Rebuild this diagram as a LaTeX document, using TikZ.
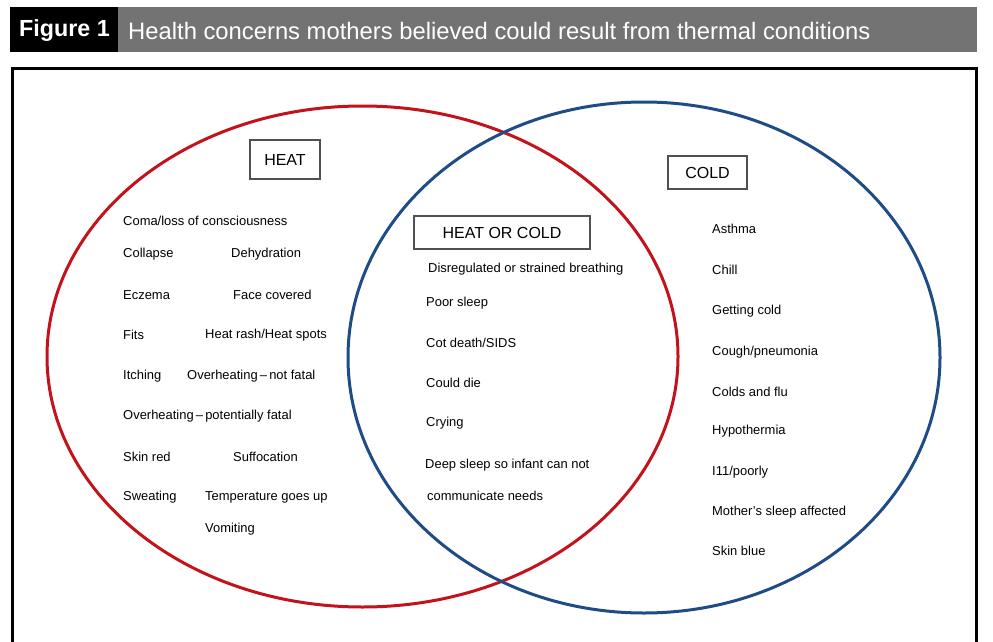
\documentclass[tikz,border=0pt]{standalone}
\usepackage{fontspec}
\setmainfont{Liberation Sans}
\definecolor{heatred}{HTML}{C4121C}
\definecolor{coldblue}{HTML}{1F4C86}
\definecolor{bargrey}{HTML}{737373}
\definecolor{boxgrey}{HTML}{505050}
\begin{document}
\begin{tikzpicture}[x=1pt,y=-1pt,
  item/.style={anchor=west,inner sep=0pt,font=\fontsize{12.95}{15}\selectfont},
  setlabel/.style={draw=boxgrey,line width=1.3pt,inner sep=0pt,font=\fontsize{16}{18}\selectfont},
  ring/.style={line width=3pt}]
\useasboundingbox (0,0) rectangle (993,642);
% title bar
\fill[black] (10,7) rectangle (118,52);
\fill[bargrey] (118,7) rectangle (977,52);
\node[anchor=west,text=white,font=\bfseries\fontsize{23.3}{26}\selectfont,inner sep=0pt] (fig) at (19,30.5) {Figure 1};
\node[anchor=west,text=white,font=\fontsize{23.8}{26}\selectfont,inner sep=0pt] (title) at (128,31) {Health concerns mothers believed could result from thermal conditions};
% frame
\draw[line width=3pt] (12,69) rectangle (976,660);
% ellipses
\draw[ring,heatred] (362.5,356.5) ellipse [x radius=315.5, y radius=250.5];
\draw[ring,coldblue] (644,357.5) ellipse [x radius=296, y radius=255.5];
% set labels
\node[setlabel,minimum width=70pt,minimum height=39pt] (heat) at (285,159.5) {HEAT};
\node[setlabel,minimum width=176pt,minimum height=33pt] (both) at (502,232.5) {HEAT OR COLD};
\node[setlabel,minimum width=79pt,minimum height=33pt] (cold) at (707.5,172.5) {COLD};
% heat items
\node[item] (h1) at (123,221) {Coma/loss of consciousness};
\node[item] (h2) at (123,254) {Collapse};
\node[item] (h3) at (231,254) {Dehydration};
\node[item] (h4) at (123,295) {Eczema};
\node[item] (h5) at (233,295) {Face covered};
\node[item] (h6) at (123,335) {Fits};
\node[item] (h7) at (205,335) {Heat rash/Heat spots};
\node[item] (h8) at (123,376) {Itching};
\node[item] (h9) at (187,376) {Overheating\,–\,not fatal};
\node[item] (h10) at (123,416) {Overheating\,–\,potentially fatal};
\node[item] (h11) at (123,457) {Skin red};
\node[item] (h12) at (233,457) {Suffocation};
\node[item] (h13) at (123,497) {Sweating};
\node[item] (h14) at (205,497) {Temperature goes up};
\node[item] (h15) at (205,529) {Vomiting};
% both items
\node[item] (b1) at (428,269) {Disregulated or strained breathing};
\node[item] (b2) at (426,303) {Poor sleep};
\node[item] (b3) at (426,343) {Cot death/SIDS};
\node[item] (b4) at (426,383) {Could die};
\node[item] (b5) at (426,423) {Crying};
\node[item] (b6) at (425,465) {Deep sleep so infant can not};
\node[item] (b7) at (427,496) {communicate needs};
% cold items
\node[item] (c1) at (712,229) {Asthma};
\node[item] (c2) at (712,270) {Chill};
\node[item] (c3) at (712,311) {Getting cold};
\node[item] (c4) at (712,352) {Cough/pneumonia};
\node[item] (c5) at (712,392) {Colds and flu};
\node[item] (c6) at (712,431) {Hypothermia};
\node[item] (c7) at (712,472) {I11/poorly};
\node[item] (c8) at (712,512) {Mother’s sleep affected};
\node[item] (c9) at (712,551) {Skin blue};
\end{tikzpicture}
\end{document}
